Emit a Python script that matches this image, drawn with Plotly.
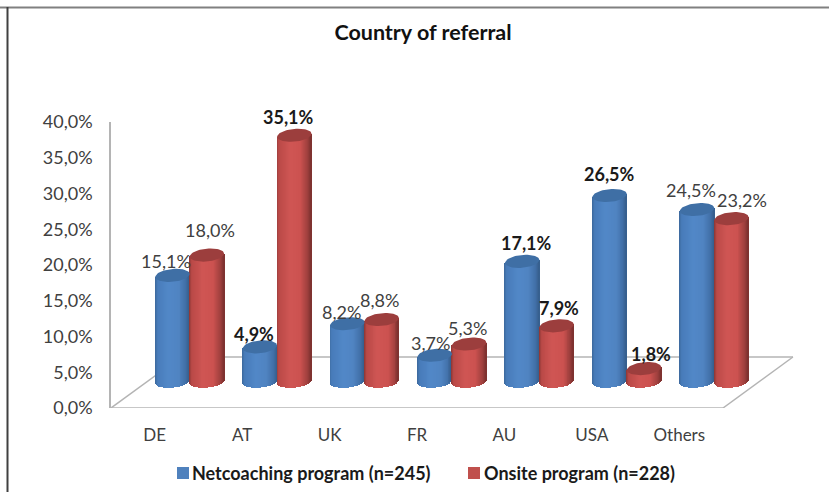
import numpy as np
import plotly.graph_objects as go

categories = ["DE", "AT", "UK", "FR", "AU", "USA", "Others"]
netcoaching = [15.1, 4.9, 8.2, 3.7, 17.1, 26.5, 24.5]
onsite = [18.0, 35.1, 8.8, 5.3, 7.9, 1.8, 23.2]
net_bold = [False, True, False, False, True, True, False]
on_bold = [False, True, False, False, True, True, False]
y_ticks = [0, 5, 10, 15, 20, 25, 30, 35, 40]
series_names = ["Netcoaching program (n=245)", "Onsite program (n=228)"]
# label offsets from the top of each cylinder, in pixels
net_label_dx = [-6, -6, -6, -4, 4, 0, -6]
net_label_dy = [14, 13, 12, 12, 18, 22, 20]
on_label_dx = [3, -6, -2, -2, 2, 7, 11]
on_label_dy = [25, 18, 20, 16, 18, 15, 19]

W, H = 829, 492
L, R, T, B = 111, 800, 122, 408
XMIN, XMAX = -0.5, -0.5 + (R - L) / 87.43
PX = (R - L) / (XMAX - XMIN)      # pixels per category
PY = (B - T) / 40.0               # pixels per percentage point
DEPTH_X, DEPTH_Y = 0.40, 3.75     # mid-depth shift of the bars
FLOOR_X, FLOOR_Y = 0.80, 51 / PY  # full depth of the floor
SCALE = 0.98                      # foreshortening of the heights
A, Bb = 17.2, 6.4                 # ellipse radii in pixels
SLANT = 0.085                     # ellipse tilt

NSTRIP = 36
u = (np.arange(NSTRIP) + 0.5) / NSTRIP * 2 - 1  # -1..1 across the cylinder


def shade(stops, t):
    xs = [s[0] for s in stops]
    return [
        "rgb(%d,%d,%d)" % tuple(int(np.interp(v, xs, [s[1][i] for s in stops])) for i in range(3))
        for v in t
    ]


BLUE = [(-1, (60, 104, 156)), (-0.85, (72, 124, 186)), (-0.2, (82, 136, 200)),
        (0.4, (80, 132, 194)), (0.8, (66, 112, 168)), (1, (54, 94, 140))]
RED = [(-1, (140, 54, 52)), (-0.85, (186, 74, 72)), (-0.2, (208, 86, 84)),
       (0.4, (204, 82, 80)), (0.8, (160, 64, 62)), (1, (122, 48, 46))]

fig = go.Figure()


def cylinder(values, side, stops, cap, name):
    xs, bases, tops = [], [], []
    for i, v in enumerate(values):
        cx = i + DEPTH_X + side * A / PX
        top = DEPTH_Y + v * SCALE
        for w in u:
            xs.append(cx + w * A / PX)
            bases.append(DEPTH_Y + (SLANT * w * A - Bb * np.sqrt(1 - w * w)) / PY)
            tops.append(top + SLANT * w * A / PY)
    heights = np.array(tops) - np.array(bases)
    fig.add_trace(go.Bar(
        x=xs, y=heights, base=bases, width=2 * A / PX / NSTRIP * 1.25, name=name,
        marker=dict(color=shade(stops, u) * len(values), line=dict(width=0)),
        showlegend=False, hoverinfo="skip",
    ))
    tt = np.linspace(0, 2 * np.pi, 61)
    for i, v in enumerate(values):
        cx = i + DEPTH_X + side * A / PX
        top = DEPTH_Y + v * SCALE
        ex = A * np.cos(tt)
        ey = Bb * np.sin(tt) + SLANT * ex
        fig.add_trace(go.Scatter(
            x=cx + ex / PX, y=top + ey / PY, mode="lines", fill="toself",
            fillcolor=cap, line=dict(width=0, color=cap),
            showlegend=False, hoverinfo="skip",
        ))


cylinder(netcoaching, -1, BLUE, "#3f6fa5", series_names[0])
cylinder(onsite, 1, RED, "#9c3e3d", series_names[1])


def fmt(v):
    return ("%.1f%%" % v).replace(".", ",")


anns = []
for vals, side, bold, dxs, dys in ((netcoaching, -1, net_bold, net_label_dx, net_label_dy),
                                   (onsite, 1, on_bold, on_label_dx, on_label_dy)):
    for i, v in enumerate(vals):
        t = fmt(v)
        anns.append(dict(
            x=i + DEPTH_X + side * A / PX, y=DEPTH_Y + v * SCALE,
            xref="x", yref="y", showarrow=False,
            text="<b>%s</b>" % t if bold[i] else t,
            xshift=dxs[i], yshift=dys[i],
            font=dict(family="Lato", size=18, color="#1a1a1a" if bold[i] else "#404040"),
        ))


def px_x(p):
    return (p - L) / (R - L)


def px_y(p):
    return (B - p) / (B - T)


line = dict(color="#b4b4b4", width=1.5)
floor = [
    dict(x0=XMIN, y0=0, x1=XMIN + 7, y1=0),
    dict(x0=XMIN + 7, y0=0, x1=XMIN + 7 + FLOOR_X, y1=FLOOR_Y),
    dict(x0=XMIN + 7 + FLOOR_X, y0=FLOOR_Y, x1=XMIN + FLOOR_X, y1=FLOOR_Y),
    dict(x0=XMIN + FLOOR_X, y0=FLOOR_Y, x1=XMIN, y1=0),
]
shapes = [dict(type="line", xref="x", yref="y", layer="below", line=line, **f) for f in floor]
# outer frame of the slide
shapes.append(dict(type="line", xref="paper", yref="paper", x0=px_x(0), x1=px_x(W),
                   y0=px_y(7.5), y1=px_y(7.5), line=dict(color="#808080", width=2)))
shapes.append(dict(type="line", xref="paper", yref="paper", x0=px_x(7.5), x1=px_x(7.5),
                   y0=px_y(H), y1=px_y(7), line=dict(color="#404040", width=2)))
# legend keys
for x0, color, tx, name in ((177, "#4f81bd", 190, series_names[0]), (468, "#c0504d", 482, series_names[1])):
    shapes.append(dict(type="rect", xref="paper", yref="paper", x0=px_x(x0), x1=px_x(x0 + 12),
                       y0=px_y(479), y1=px_y(467), fillcolor=color, line=dict(width=0)))
    anns.append(dict(xref="paper", yref="paper", x=px_x(tx), y=px_y(473), xanchor="left", yanchor="middle",
                     showarrow=False, text="<b>%s</b>" % name,
                     font=dict(family="Lato", size=18, color="#1a1a1a")))

fig.update_layout(
    width=W, height=H, margin=dict(l=L, r=W - R, t=T, b=H - B, autoexpand=False),
    paper_bgcolor="white", plot_bgcolor="rgba(0,0,0,0)",
    barmode="overlay", bargap=0, showlegend=False,
    title=dict(text="<b>Country of referral</b>", x=423 / W, xanchor="center",
               y=1 - 32 / H, yanchor="middle",
               font=dict(family="Lato", size=21.5, color="#111111")),
    xaxis=dict(range=[XMIN, XMAX], tickvals=list(range(7)), ticktext=categories,
               showgrid=False, zeroline=False, showline=False, ticks="outside",
               ticklen=12, tickcolor="rgba(0,0,0,0)",
               tickfont=dict(family="Lato", size=17, color="#404040")),
    yaxis=dict(range=[0, 40], tickvals=y_ticks,
               ticktext=[fmt(v) for v in y_ticks], showgrid=False, zeroline=False,
               showline=True, linecolor="#b4b4b4", linewidth=1.5, ticks="outside",
               ticklen=13, tickcolor="rgba(0,0,0,0)",
               tickfont=dict(family="Lato", size=18, color="#404040")),
    annotations=anns, shapes=shapes,
)

fig.write_html("out.html", config={"displayModeBar": False},
               post_script="document.body.style.margin='0';")
